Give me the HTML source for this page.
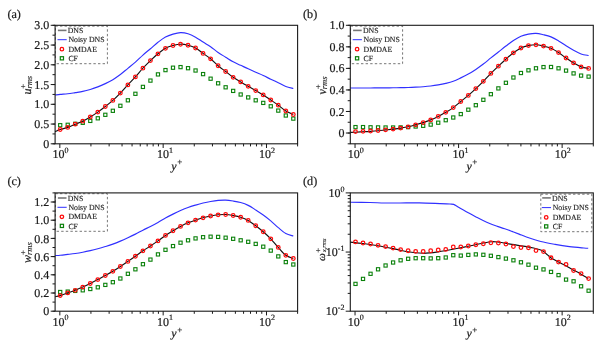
<!DOCTYPE html>
<html><head><meta charset="utf-8"><title>rms profiles</title>
<style>html,body{margin:0;padding:0;background:#fff;}svg{display:block;text-rendering:geometricPrecision;will-change:transform;}</style>
</head><body>
<svg width="598" height="348" viewBox="0 0 598 348" font-family='"Liberation Serif", serif' fill="#1a1a1a">
<rect width="598" height="348" fill="#fff"/>
<path d="M55.10,94.99 C55.95,94.90 58.10,94.61 60.20,94.41 C62.30,94.20 65.21,94.06 67.72,93.77 C70.23,93.47 72.73,93.03 75.24,92.64 C77.75,92.25 80.25,91.95 82.76,91.42 C85.27,90.90 87.77,90.24 90.28,89.48 C92.79,88.73 95.29,87.89 97.80,86.91 C100.31,85.94 102.81,84.83 105.32,83.62 C107.83,82.41 110.33,81.18 112.84,79.67 C115.35,78.15 117.85,76.41 120.36,74.52 C122.87,72.63 125.37,70.38 127.88,68.32 C130.39,66.26 132.89,64.36 135.40,62.15 C137.91,59.95 140.41,57.33 142.92,55.09 C145.43,52.85 147.93,50.86 150.44,48.72 C152.95,46.59 155.45,44.24 157.96,42.28 C160.47,40.32 162.97,38.32 165.48,36.95 C167.99,35.59 170.49,34.80 173.00,34.08 C175.51,33.35 178.01,32.66 180.52,32.60 C183.03,32.53 185.53,32.93 188.04,33.69 C190.55,34.45 193.05,35.78 195.56,37.18 C198.07,38.58 200.57,40.51 203.08,42.09 C205.59,43.67 208.09,44.94 210.60,46.67 C213.11,48.40 215.61,50.73 218.12,52.48 C220.63,54.24 223.13,55.64 225.64,57.19 C228.15,58.74 230.65,60.45 233.16,61.80 C235.67,63.15 238.17,64.13 240.68,65.30 C243.19,66.48 245.69,67.70 248.20,68.85 C250.71,70.01 253.21,71.12 255.72,72.23 C258.23,73.34 260.73,74.34 263.24,75.50 C265.75,76.67 268.25,77.99 270.76,79.20 C273.27,80.41 275.77,81.56 278.28,82.76 C280.79,83.97 283.29,85.46 285.80,86.42 C288.31,87.38 292.07,88.16 293.32,88.51" fill="none" stroke="#3030ff" stroke-width="1.15"/>
<rect x="58.60" y="123.60" width="3.2" height="3.2" fill="none" stroke="#0a800a" stroke-width="1.1"/>
<rect x="66.12" y="123.20" width="3.2" height="3.2" fill="none" stroke="#0a800a" stroke-width="1.1"/>
<rect x="73.64" y="122.20" width="3.2" height="3.2" fill="none" stroke="#0a800a" stroke-width="1.1"/>
<rect x="81.16" y="121.20" width="3.2" height="3.2" fill="none" stroke="#0a800a" stroke-width="1.1"/>
<rect x="88.68" y="119.30" width="3.2" height="3.2" fill="none" stroke="#0a800a" stroke-width="1.1"/>
<rect x="96.20" y="116.70" width="3.2" height="3.2" fill="none" stroke="#0a800a" stroke-width="1.1"/>
<rect x="103.72" y="113.20" width="3.2" height="3.2" fill="none" stroke="#0a800a" stroke-width="1.1"/>
<rect x="111.24" y="109.20" width="3.2" height="3.2" fill="none" stroke="#0a800a" stroke-width="1.1"/>
<rect x="118.76" y="104.20" width="3.2" height="3.2" fill="none" stroke="#0a800a" stroke-width="1.1"/>
<rect x="126.28" y="98.70" width="3.2" height="3.2" fill="none" stroke="#0a800a" stroke-width="1.1"/>
<rect x="133.80" y="92.20" width="3.2" height="3.2" fill="none" stroke="#0a800a" stroke-width="1.1"/>
<rect x="141.32" y="85.30" width="3.2" height="3.2" fill="none" stroke="#0a800a" stroke-width="1.1"/>
<rect x="148.84" y="79.00" width="3.2" height="3.2" fill="none" stroke="#0a800a" stroke-width="1.1"/>
<rect x="156.36" y="72.80" width="3.2" height="3.2" fill="none" stroke="#0a800a" stroke-width="1.1"/>
<rect x="163.88" y="68.50" width="3.2" height="3.2" fill="none" stroke="#0a800a" stroke-width="1.1"/>
<rect x="171.40" y="66.10" width="3.2" height="3.2" fill="none" stroke="#0a800a" stroke-width="1.1"/>
<rect x="178.92" y="65.50" width="3.2" height="3.2" fill="none" stroke="#0a800a" stroke-width="1.1"/>
<rect x="186.44" y="66.60" width="3.2" height="3.2" fill="none" stroke="#0a800a" stroke-width="1.1"/>
<rect x="193.96" y="68.90" width="3.2" height="3.2" fill="none" stroke="#0a800a" stroke-width="1.1"/>
<rect x="201.48" y="72.50" width="3.2" height="3.2" fill="none" stroke="#0a800a" stroke-width="1.1"/>
<rect x="209.00" y="77.10" width="3.2" height="3.2" fill="none" stroke="#0a800a" stroke-width="1.1"/>
<rect x="216.52" y="81.70" width="3.2" height="3.2" fill="none" stroke="#0a800a" stroke-width="1.1"/>
<rect x="224.04" y="85.70" width="3.2" height="3.2" fill="none" stroke="#0a800a" stroke-width="1.1"/>
<rect x="231.56" y="89.30" width="3.2" height="3.2" fill="none" stroke="#0a800a" stroke-width="1.1"/>
<rect x="239.08" y="92.90" width="3.2" height="3.2" fill="none" stroke="#0a800a" stroke-width="1.1"/>
<rect x="246.60" y="95.80" width="3.2" height="3.2" fill="none" stroke="#0a800a" stroke-width="1.1"/>
<rect x="254.12" y="98.70" width="3.2" height="3.2" fill="none" stroke="#0a800a" stroke-width="1.1"/>
<rect x="261.64" y="101.30" width="3.2" height="3.2" fill="none" stroke="#0a800a" stroke-width="1.1"/>
<rect x="269.16" y="104.70" width="3.2" height="3.2" fill="none" stroke="#0a800a" stroke-width="1.1"/>
<rect x="276.68" y="109.00" width="3.2" height="3.2" fill="none" stroke="#0a800a" stroke-width="1.1"/>
<rect x="284.20" y="113.90" width="3.2" height="3.2" fill="none" stroke="#0a800a" stroke-width="1.1"/>
<rect x="291.72" y="117.00" width="3.2" height="3.2" fill="none" stroke="#0a800a" stroke-width="1.1"/>
<path d="M55.10,131.70 C55.95,131.33 58.10,130.22 60.20,129.50 C62.30,128.78 65.21,128.28 67.72,127.40 C70.23,126.52 72.73,125.23 75.24,124.20 C77.75,123.17 80.25,122.40 82.76,121.20 C85.27,120.00 87.77,118.52 90.28,117.00 C92.79,115.48 95.29,113.85 97.80,112.10 C100.31,110.35 102.81,108.45 105.32,106.50 C107.83,104.55 110.33,102.63 112.84,100.40 C115.35,98.17 117.85,95.68 120.36,93.10 C122.87,90.52 125.37,87.60 127.88,84.90 C130.39,82.20 132.89,79.68 135.40,76.90 C137.91,74.12 140.41,70.92 142.92,68.20 C145.43,65.48 147.93,63.00 150.44,60.60 C152.95,58.20 155.45,55.85 157.96,53.80 C160.47,51.75 162.97,49.68 165.48,48.30 C167.99,46.92 170.49,46.18 173.00,45.50 C175.51,44.82 178.01,44.25 180.52,44.20 C183.03,44.15 185.53,44.57 188.04,45.20 C190.55,45.83 193.05,46.63 195.56,48.00 C198.07,49.37 200.57,51.60 203.08,53.40 C205.59,55.20 208.09,56.74 210.60,58.80 C213.11,60.86 215.61,63.63 218.12,65.75 C220.63,67.87 223.13,69.58 225.64,71.50 C228.15,73.42 230.65,75.57 233.16,77.30 C235.67,79.03 238.17,80.40 240.68,81.90 C243.19,83.40 245.69,84.85 248.20,86.30 C250.71,87.75 253.21,89.17 255.72,90.60 C258.23,92.03 260.73,93.33 263.24,94.90 C265.75,96.47 268.25,98.28 270.76,100.00 C273.27,101.72 275.77,103.37 278.28,105.20 C280.79,107.03 283.29,109.45 285.80,111.00 C288.31,112.55 292.07,113.92 293.32,114.50" fill="none" stroke="#111" stroke-width="1.15"/>
<circle cx="60.20" cy="129.50" r="1.8" fill="none" stroke="#ff0a0a" stroke-width="1.25"/>
<circle cx="67.72" cy="127.40" r="1.8" fill="none" stroke="#ff0a0a" stroke-width="1.25"/>
<circle cx="75.24" cy="124.20" r="1.8" fill="none" stroke="#ff0a0a" stroke-width="1.25"/>
<circle cx="82.76" cy="121.20" r="1.8" fill="none" stroke="#ff0a0a" stroke-width="1.25"/>
<circle cx="90.28" cy="117.00" r="1.8" fill="none" stroke="#ff0a0a" stroke-width="1.25"/>
<circle cx="97.80" cy="112.10" r="1.8" fill="none" stroke="#ff0a0a" stroke-width="1.25"/>
<circle cx="105.32" cy="106.50" r="1.8" fill="none" stroke="#ff0a0a" stroke-width="1.25"/>
<circle cx="112.84" cy="100.40" r="1.8" fill="none" stroke="#ff0a0a" stroke-width="1.25"/>
<circle cx="120.36" cy="93.10" r="1.8" fill="none" stroke="#ff0a0a" stroke-width="1.25"/>
<circle cx="127.88" cy="84.90" r="1.8" fill="none" stroke="#ff0a0a" stroke-width="1.25"/>
<circle cx="135.40" cy="76.90" r="1.8" fill="none" stroke="#ff0a0a" stroke-width="1.25"/>
<circle cx="142.92" cy="68.20" r="1.8" fill="none" stroke="#ff0a0a" stroke-width="1.25"/>
<circle cx="150.44" cy="60.60" r="1.8" fill="none" stroke="#ff0a0a" stroke-width="1.25"/>
<circle cx="157.96" cy="53.80" r="1.8" fill="none" stroke="#ff0a0a" stroke-width="1.25"/>
<circle cx="165.48" cy="48.30" r="1.8" fill="none" stroke="#ff0a0a" stroke-width="1.25"/>
<circle cx="173.00" cy="45.50" r="1.8" fill="none" stroke="#ff0a0a" stroke-width="1.25"/>
<circle cx="180.52" cy="44.20" r="1.8" fill="none" stroke="#ff0a0a" stroke-width="1.25"/>
<circle cx="188.04" cy="45.20" r="1.8" fill="none" stroke="#ff0a0a" stroke-width="1.25"/>
<circle cx="195.56" cy="48.00" r="1.8" fill="none" stroke="#ff0a0a" stroke-width="1.25"/>
<circle cx="203.08" cy="53.40" r="1.8" fill="none" stroke="#ff0a0a" stroke-width="1.25"/>
<circle cx="210.60" cy="58.80" r="1.8" fill="none" stroke="#ff0a0a" stroke-width="1.25"/>
<circle cx="218.12" cy="65.75" r="1.8" fill="none" stroke="#ff0a0a" stroke-width="1.25"/>
<circle cx="225.64" cy="71.50" r="1.8" fill="none" stroke="#ff0a0a" stroke-width="1.25"/>
<circle cx="233.16" cy="77.30" r="1.8" fill="none" stroke="#ff0a0a" stroke-width="1.25"/>
<circle cx="240.68" cy="81.90" r="1.8" fill="none" stroke="#ff0a0a" stroke-width="1.25"/>
<circle cx="248.20" cy="86.30" r="1.8" fill="none" stroke="#ff0a0a" stroke-width="1.25"/>
<circle cx="255.72" cy="90.60" r="1.8" fill="none" stroke="#ff0a0a" stroke-width="1.25"/>
<circle cx="263.24" cy="94.90" r="1.8" fill="none" stroke="#ff0a0a" stroke-width="1.25"/>
<circle cx="270.76" cy="100.00" r="1.8" fill="none" stroke="#ff0a0a" stroke-width="1.25"/>
<circle cx="278.28" cy="105.20" r="1.8" fill="none" stroke="#ff0a0a" stroke-width="1.25"/>
<circle cx="285.80" cy="111.00" r="1.8" fill="none" stroke="#ff0a0a" stroke-width="1.25"/>
<circle cx="293.32" cy="114.50" r="1.8" fill="none" stroke="#ff0a0a" stroke-width="1.25"/>
<rect x="55.40" y="26.10" width="52.0" height="37.6" fill="#fff" stroke="#4a4a4a" stroke-width="0.75" stroke-dasharray="2.4,2.2"/>
<line x1="57.90" y1="30.40" x2="66.50" y2="30.40" stroke="#767676" stroke-width="1.6"/>
<text x="67.70" y="33.00" font-size="7.8" stroke="#1a1a1a" stroke-width="0.12">DNS</text>
<line x1="57.50" y1="39.70" x2="66.70" y2="39.70" stroke="#2222ff" stroke-width="0.95"/>
<text x="68.40" y="42.30" font-size="7.8" stroke="#1a1a1a" stroke-width="0.12">Noisy DNS</text>
<circle cx="61.90" cy="49.20" r="1.75" fill="none" stroke="#ff0a0a" stroke-width="1.3"/>
<text x="68.40" y="51.80" font-size="7.8" stroke="#1a1a1a" stroke-width="0.12">DMDAE</text>
<rect x="60.30" y="56.70" width="3.2" height="3.2" fill="none" stroke="#0a800a" stroke-width="1.2"/>
<text x="68.40" y="60.90" font-size="7.8" stroke="#1a1a1a" stroke-width="0.12">CF</text>
<rect x="55.1" y="25.3" width="242.50" height="118.50" fill="none" stroke="#1a1a1a" stroke-width="1.1"/>
<text x="7.4" y="17.6" font-size="12.2" stroke="#1a1a1a" stroke-width="0.2">(a)</text>
<line x1="59.83" y1="143.8" x2="59.83" y2="148.00" stroke="#1a1a1a" stroke-width="1.0"/>
<line x1="90.93" y1="143.8" x2="90.93" y2="146.40" stroke="#1a1a1a" stroke-width="1.0"/>
<line x1="109.13" y1="143.8" x2="109.13" y2="146.40" stroke="#1a1a1a" stroke-width="1.0"/>
<line x1="122.04" y1="143.8" x2="122.04" y2="146.40" stroke="#1a1a1a" stroke-width="1.0"/>
<line x1="132.05" y1="143.8" x2="132.05" y2="146.40" stroke="#1a1a1a" stroke-width="1.0"/>
<line x1="140.24" y1="143.8" x2="140.24" y2="146.40" stroke="#1a1a1a" stroke-width="1.0"/>
<line x1="147.15" y1="143.8" x2="147.15" y2="146.40" stroke="#1a1a1a" stroke-width="1.0"/>
<line x1="153.15" y1="143.8" x2="153.15" y2="146.40" stroke="#1a1a1a" stroke-width="1.0"/>
<line x1="158.43" y1="143.8" x2="158.43" y2="146.40" stroke="#1a1a1a" stroke-width="1.0"/>
<text x="52.53" y="158.10" font-size="12" stroke="#1a1a1a" stroke-width="0.2">10<tspan font-size="8" dy="-5.2">0</tspan></text>
<line x1="163.16" y1="143.8" x2="163.16" y2="148.00" stroke="#1a1a1a" stroke-width="1.0"/>
<line x1="194.27" y1="143.8" x2="194.27" y2="146.40" stroke="#1a1a1a" stroke-width="1.0"/>
<line x1="212.46" y1="143.8" x2="212.46" y2="146.40" stroke="#1a1a1a" stroke-width="1.0"/>
<line x1="225.37" y1="143.8" x2="225.37" y2="146.40" stroke="#1a1a1a" stroke-width="1.0"/>
<line x1="235.39" y1="143.8" x2="235.39" y2="146.40" stroke="#1a1a1a" stroke-width="1.0"/>
<line x1="243.57" y1="143.8" x2="243.57" y2="146.40" stroke="#1a1a1a" stroke-width="1.0"/>
<line x1="250.49" y1="143.8" x2="250.49" y2="146.40" stroke="#1a1a1a" stroke-width="1.0"/>
<line x1="256.48" y1="143.8" x2="256.48" y2="146.40" stroke="#1a1a1a" stroke-width="1.0"/>
<line x1="261.77" y1="143.8" x2="261.77" y2="146.40" stroke="#1a1a1a" stroke-width="1.0"/>
<text x="156.96" y="158.10" font-size="12" stroke="#1a1a1a" stroke-width="0.2">10<tspan font-size="8" dy="-5.2">1</tspan></text>
<line x1="266.49" y1="143.8" x2="266.49" y2="148.00" stroke="#1a1a1a" stroke-width="1.0"/>
<line x1="297.60" y1="143.8" x2="297.60" y2="146.40" stroke="#1a1a1a" stroke-width="1.0"/>
<text x="259.09" y="158.10" font-size="12" stroke="#1a1a1a" stroke-width="0.2">10<tspan font-size="8" dy="-5.2">2</tspan></text>
<text x="171.20" y="169.60" font-size="12" font-style="italic" stroke="#1a1a1a" stroke-width="0.2">y<tspan font-size="9" dx="0.6" dy="-4.2" font-style="normal">+</tspan></text>
<line x1="50.70" y1="143.80" x2="55.1" y2="143.80" stroke="#1a1a1a" stroke-width="1.0"/>
<text x="49.30" y="147.90" font-size="12" text-anchor="end" stroke="#1a1a1a" stroke-width="0.2">0</text>
<line x1="50.70" y1="124.05" x2="55.1" y2="124.05" stroke="#1a1a1a" stroke-width="1.0"/>
<text x="49.30" y="128.15" font-size="12" text-anchor="end" stroke="#1a1a1a" stroke-width="0.2">0.5</text>
<line x1="50.70" y1="104.30" x2="55.1" y2="104.30" stroke="#1a1a1a" stroke-width="1.0"/>
<text x="49.30" y="108.40" font-size="12" text-anchor="end" stroke="#1a1a1a" stroke-width="0.2">1.0</text>
<line x1="50.70" y1="84.55" x2="55.1" y2="84.55" stroke="#1a1a1a" stroke-width="1.0"/>
<text x="49.30" y="88.65" font-size="12" text-anchor="end" stroke="#1a1a1a" stroke-width="0.2">1.5</text>
<line x1="50.70" y1="64.80" x2="55.1" y2="64.80" stroke="#1a1a1a" stroke-width="1.0"/>
<text x="49.30" y="68.90" font-size="12" text-anchor="end" stroke="#1a1a1a" stroke-width="0.2">2.0</text>
<line x1="50.70" y1="45.05" x2="55.1" y2="45.05" stroke="#1a1a1a" stroke-width="1.0"/>
<text x="49.30" y="49.15" font-size="12" text-anchor="end" stroke="#1a1a1a" stroke-width="0.2">2.5</text>
<line x1="50.70" y1="25.30" x2="55.1" y2="25.30" stroke="#1a1a1a" stroke-width="1.0"/>
<text x="49.30" y="29.40" font-size="12" text-anchor="end" stroke="#1a1a1a" stroke-width="0.2">3.0</text>
<line x1="52.50" y1="143.80" x2="55.1" y2="143.80" stroke="#1a1a1a" stroke-width="1.0"/>
<line x1="52.50" y1="133.93" x2="55.1" y2="133.93" stroke="#1a1a1a" stroke-width="1.0"/>
<line x1="52.50" y1="124.05" x2="55.1" y2="124.05" stroke="#1a1a1a" stroke-width="1.0"/>
<line x1="52.50" y1="114.18" x2="55.1" y2="114.18" stroke="#1a1a1a" stroke-width="1.0"/>
<line x1="52.50" y1="104.30" x2="55.1" y2="104.30" stroke="#1a1a1a" stroke-width="1.0"/>
<line x1="52.50" y1="94.43" x2="55.1" y2="94.43" stroke="#1a1a1a" stroke-width="1.0"/>
<line x1="52.50" y1="84.55" x2="55.1" y2="84.55" stroke="#1a1a1a" stroke-width="1.0"/>
<line x1="52.50" y1="74.67" x2="55.1" y2="74.67" stroke="#1a1a1a" stroke-width="1.0"/>
<line x1="52.50" y1="64.80" x2="55.1" y2="64.80" stroke="#1a1a1a" stroke-width="1.0"/>
<line x1="52.50" y1="54.92" x2="55.1" y2="54.92" stroke="#1a1a1a" stroke-width="1.0"/>
<line x1="52.50" y1="45.05" x2="55.1" y2="45.05" stroke="#1a1a1a" stroke-width="1.0"/>
<line x1="52.50" y1="35.17" x2="55.1" y2="35.17" stroke="#1a1a1a" stroke-width="1.0"/>
<line x1="52.50" y1="25.30" x2="55.1" y2="25.30" stroke="#1a1a1a" stroke-width="1.0"/>
<g transform="translate(30.60,94.60) rotate(-90)"><text x="0" y="0" font-size="12" font-style="italic" stroke="#1a1a1a" stroke-width="0.2">u</text><text x="6.00" y="1.6" font-size="8.5" font-style="italic" stroke="#1a1a1a" stroke-width="0.12">rms</text><text x="5.90" y="-5.1" font-size="8.6" stroke="#1a1a1a" stroke-width="0.12">+</text></g>
<path d="M350.40,88.02 C351.25,88.02 353.40,88.01 355.50,88.01 C357.60,88.00 360.51,87.99 363.02,87.98 C365.53,87.98 368.03,87.97 370.54,87.96 C373.05,87.95 375.55,87.94 378.06,87.92 C380.57,87.90 383.07,87.88 385.58,87.86 C388.09,87.83 390.59,87.81 393.10,87.78 C395.61,87.75 398.11,87.72 400.62,87.67 C403.13,87.62 405.63,87.58 408.14,87.50 C410.65,87.42 413.15,87.31 415.66,87.18 C418.17,87.05 420.67,86.92 423.18,86.73 C425.69,86.54 428.19,86.34 430.70,86.04 C433.21,85.74 435.71,85.38 438.22,84.94 C440.73,84.49 443.23,83.99 445.74,83.37 C448.25,82.75 450.75,82.14 453.26,81.23 C455.77,80.32 458.27,79.07 460.78,77.88 C463.29,76.70 465.79,75.50 468.30,74.10 C470.81,72.69 473.31,71.12 475.82,69.45 C478.33,67.78 480.83,66.00 483.34,64.08 C485.85,62.15 488.35,59.91 490.86,57.90 C493.37,55.88 495.87,53.97 498.38,51.99 C500.89,50.02 503.39,47.98 505.90,46.07 C508.41,44.15 510.91,42.15 513.42,40.51 C515.93,38.88 518.43,37.33 520.94,36.26 C523.45,35.19 525.95,34.57 528.46,34.08 C530.97,33.59 533.47,33.21 535.98,33.32 C538.49,33.42 540.99,34.11 543.50,34.71 C546.01,35.30 548.51,35.85 551.02,36.89 C553.53,37.92 556.03,39.41 558.54,40.90 C561.05,42.39 563.55,44.27 566.06,45.83 C568.57,47.40 571.07,48.93 573.58,50.28 C576.09,51.63 578.59,53.06 581.10,53.92 C583.61,54.78 587.37,55.20 588.62,55.45" fill="none" stroke="#3030ff" stroke-width="1.15"/>
<rect x="353.90" y="125.50" width="3.2" height="3.2" fill="none" stroke="#0a800a" stroke-width="1.1"/>
<rect x="361.42" y="125.50" width="3.2" height="3.2" fill="none" stroke="#0a800a" stroke-width="1.1"/>
<rect x="368.94" y="125.70" width="3.2" height="3.2" fill="none" stroke="#0a800a" stroke-width="1.1"/>
<rect x="376.46" y="125.80" width="3.2" height="3.2" fill="none" stroke="#0a800a" stroke-width="1.1"/>
<rect x="383.98" y="125.90" width="3.2" height="3.2" fill="none" stroke="#0a800a" stroke-width="1.1"/>
<rect x="391.50" y="125.90" width="3.2" height="3.2" fill="none" stroke="#0a800a" stroke-width="1.1"/>
<rect x="399.02" y="125.80" width="3.2" height="3.2" fill="none" stroke="#0a800a" stroke-width="1.1"/>
<rect x="406.54" y="125.50" width="3.2" height="3.2" fill="none" stroke="#0a800a" stroke-width="1.1"/>
<rect x="414.06" y="124.90" width="3.2" height="3.2" fill="none" stroke="#0a800a" stroke-width="1.1"/>
<rect x="421.58" y="124.20" width="3.2" height="3.2" fill="none" stroke="#0a800a" stroke-width="1.1"/>
<rect x="429.10" y="123.00" width="3.2" height="3.2" fill="none" stroke="#0a800a" stroke-width="1.1"/>
<rect x="436.62" y="121.10" width="3.2" height="3.2" fill="none" stroke="#0a800a" stroke-width="1.1"/>
<rect x="444.14" y="118.60" width="3.2" height="3.2" fill="none" stroke="#0a800a" stroke-width="1.1"/>
<rect x="451.66" y="115.90" width="3.2" height="3.2" fill="none" stroke="#0a800a" stroke-width="1.1"/>
<rect x="459.18" y="112.50" width="3.2" height="3.2" fill="none" stroke="#0a800a" stroke-width="1.1"/>
<rect x="466.70" y="108.10" width="3.2" height="3.2" fill="none" stroke="#0a800a" stroke-width="1.1"/>
<rect x="474.22" y="103.60" width="3.2" height="3.2" fill="none" stroke="#0a800a" stroke-width="1.1"/>
<rect x="481.74" y="98.20" width="3.2" height="3.2" fill="none" stroke="#0a800a" stroke-width="1.1"/>
<rect x="489.26" y="92.60" width="3.2" height="3.2" fill="none" stroke="#0a800a" stroke-width="1.1"/>
<rect x="496.78" y="86.80" width="3.2" height="3.2" fill="none" stroke="#0a800a" stroke-width="1.1"/>
<rect x="504.30" y="81.20" width="3.2" height="3.2" fill="none" stroke="#0a800a" stroke-width="1.1"/>
<rect x="511.82" y="75.90" width="3.2" height="3.2" fill="none" stroke="#0a800a" stroke-width="1.1"/>
<rect x="519.34" y="71.40" width="3.2" height="3.2" fill="none" stroke="#0a800a" stroke-width="1.1"/>
<rect x="526.86" y="68.70" width="3.2" height="3.2" fill="none" stroke="#0a800a" stroke-width="1.1"/>
<rect x="534.38" y="66.70" width="3.2" height="3.2" fill="none" stroke="#0a800a" stroke-width="1.1"/>
<rect x="541.90" y="65.50" width="3.2" height="3.2" fill="none" stroke="#0a800a" stroke-width="1.1"/>
<rect x="549.42" y="65.40" width="3.2" height="3.2" fill="none" stroke="#0a800a" stroke-width="1.1"/>
<rect x="556.94" y="66.70" width="3.2" height="3.2" fill="none" stroke="#0a800a" stroke-width="1.1"/>
<rect x="564.46" y="69.00" width="3.2" height="3.2" fill="none" stroke="#0a800a" stroke-width="1.1"/>
<rect x="571.98" y="71.80" width="3.2" height="3.2" fill="none" stroke="#0a800a" stroke-width="1.1"/>
<rect x="579.50" y="74.00" width="3.2" height="3.2" fill="none" stroke="#0a800a" stroke-width="1.1"/>
<rect x="587.02" y="75.00" width="3.2" height="3.2" fill="none" stroke="#0a800a" stroke-width="1.1"/>
<path d="M350.40,132.40 C351.25,132.37 353.40,132.30 355.50,132.20 C357.60,132.10 360.51,131.93 363.02,131.80 C365.53,131.67 368.03,131.57 370.54,131.40 C373.05,131.23 375.55,131.04 378.06,130.80 C380.57,130.56 383.07,130.23 385.58,129.95 C388.09,129.67 390.59,129.41 393.10,129.10 C395.61,128.79 398.11,128.48 400.62,128.10 C403.13,127.72 405.63,127.35 408.14,126.80 C410.65,126.25 413.15,125.50 415.66,124.80 C418.17,124.10 420.67,123.42 423.18,122.60 C425.69,121.78 428.19,120.93 430.70,119.90 C433.21,118.87 435.71,117.67 438.22,116.40 C440.73,115.13 443.23,113.77 445.74,112.30 C448.25,110.83 450.75,109.40 453.26,107.60 C455.77,105.80 458.27,103.53 460.78,101.50 C463.29,99.47 465.79,97.55 468.30,95.40 C470.81,93.25 473.31,90.95 475.82,88.60 C478.33,86.25 480.83,83.83 483.34,81.30 C485.85,78.77 488.35,75.92 490.86,73.40 C493.37,70.88 495.87,68.57 498.38,66.20 C500.89,63.83 503.39,61.43 505.90,59.20 C508.41,56.97 510.91,54.67 513.42,52.80 C515.93,50.93 518.43,49.20 520.94,48.00 C523.45,46.80 525.95,46.13 528.46,45.60 C530.97,45.07 533.47,44.72 535.98,44.80 C538.49,44.88 540.99,45.52 543.50,46.10 C546.01,46.68 548.51,47.22 551.02,48.30 C553.53,49.38 556.03,50.98 558.54,52.60 C561.05,54.22 563.55,56.28 566.06,58.00 C568.57,59.72 571.07,61.42 573.58,62.90 C576.09,64.38 578.59,65.98 581.10,66.90 C583.61,67.82 587.37,68.15 588.62,68.40" fill="none" stroke="#111" stroke-width="1.15"/>
<circle cx="355.50" cy="131.60" r="1.8" fill="none" stroke="#ff0a0a" stroke-width="1.25"/>
<circle cx="363.02" cy="131.30" r="1.8" fill="none" stroke="#ff0a0a" stroke-width="1.25"/>
<circle cx="370.54" cy="131.00" r="1.8" fill="none" stroke="#ff0a0a" stroke-width="1.25"/>
<circle cx="378.06" cy="130.50" r="1.8" fill="none" stroke="#ff0a0a" stroke-width="1.25"/>
<circle cx="385.58" cy="129.80" r="1.8" fill="none" stroke="#ff0a0a" stroke-width="1.25"/>
<circle cx="393.10" cy="129.10" r="1.8" fill="none" stroke="#ff0a0a" stroke-width="1.25"/>
<circle cx="400.62" cy="128.10" r="1.8" fill="none" stroke="#ff0a0a" stroke-width="1.25"/>
<circle cx="408.14" cy="126.80" r="1.8" fill="none" stroke="#ff0a0a" stroke-width="1.25"/>
<circle cx="415.66" cy="124.80" r="1.8" fill="none" stroke="#ff0a0a" stroke-width="1.25"/>
<circle cx="423.18" cy="122.60" r="1.8" fill="none" stroke="#ff0a0a" stroke-width="1.25"/>
<circle cx="430.70" cy="119.90" r="1.8" fill="none" stroke="#ff0a0a" stroke-width="1.25"/>
<circle cx="438.22" cy="116.40" r="1.8" fill="none" stroke="#ff0a0a" stroke-width="1.25"/>
<circle cx="445.74" cy="112.30" r="1.8" fill="none" stroke="#ff0a0a" stroke-width="1.25"/>
<circle cx="453.26" cy="107.60" r="1.8" fill="none" stroke="#ff0a0a" stroke-width="1.25"/>
<circle cx="460.78" cy="101.50" r="1.8" fill="none" stroke="#ff0a0a" stroke-width="1.25"/>
<circle cx="468.30" cy="95.40" r="1.8" fill="none" stroke="#ff0a0a" stroke-width="1.25"/>
<circle cx="475.82" cy="88.60" r="1.8" fill="none" stroke="#ff0a0a" stroke-width="1.25"/>
<circle cx="483.34" cy="81.30" r="1.8" fill="none" stroke="#ff0a0a" stroke-width="1.25"/>
<circle cx="490.86" cy="73.40" r="1.8" fill="none" stroke="#ff0a0a" stroke-width="1.25"/>
<circle cx="498.38" cy="66.20" r="1.8" fill="none" stroke="#ff0a0a" stroke-width="1.25"/>
<circle cx="505.90" cy="59.20" r="1.8" fill="none" stroke="#ff0a0a" stroke-width="1.25"/>
<circle cx="513.42" cy="52.80" r="1.8" fill="none" stroke="#ff0a0a" stroke-width="1.25"/>
<circle cx="520.94" cy="48.00" r="1.8" fill="none" stroke="#ff0a0a" stroke-width="1.25"/>
<circle cx="528.46" cy="45.60" r="1.8" fill="none" stroke="#ff0a0a" stroke-width="1.25"/>
<circle cx="535.98" cy="44.80" r="1.8" fill="none" stroke="#ff0a0a" stroke-width="1.25"/>
<circle cx="543.50" cy="46.10" r="1.8" fill="none" stroke="#ff0a0a" stroke-width="1.25"/>
<circle cx="551.02" cy="48.30" r="1.8" fill="none" stroke="#ff0a0a" stroke-width="1.25"/>
<circle cx="558.54" cy="52.60" r="1.8" fill="none" stroke="#ff0a0a" stroke-width="1.25"/>
<circle cx="566.06" cy="58.00" r="1.8" fill="none" stroke="#ff0a0a" stroke-width="1.25"/>
<circle cx="573.58" cy="62.90" r="1.8" fill="none" stroke="#ff0a0a" stroke-width="1.25"/>
<circle cx="581.10" cy="66.90" r="1.8" fill="none" stroke="#ff0a0a" stroke-width="1.25"/>
<circle cx="588.62" cy="68.40" r="1.8" fill="none" stroke="#ff0a0a" stroke-width="1.25"/>
<rect x="350.60" y="26.10" width="52.0" height="37.6" fill="#fff" stroke="#4a4a4a" stroke-width="0.75" stroke-dasharray="2.4,2.2"/>
<line x1="353.10" y1="30.40" x2="361.70" y2="30.40" stroke="#767676" stroke-width="1.6"/>
<text x="362.90" y="33.00" font-size="7.8" stroke="#1a1a1a" stroke-width="0.12">DNS</text>
<line x1="352.70" y1="39.70" x2="361.90" y2="39.70" stroke="#2222ff" stroke-width="0.95"/>
<text x="363.60" y="42.30" font-size="7.8" stroke="#1a1a1a" stroke-width="0.12">Noisy DNS</text>
<circle cx="357.10" cy="49.20" r="1.75" fill="none" stroke="#ff0a0a" stroke-width="1.3"/>
<text x="363.60" y="51.80" font-size="7.8" stroke="#1a1a1a" stroke-width="0.12">DMDAE</text>
<rect x="355.50" y="56.70" width="3.2" height="3.2" fill="none" stroke="#0a800a" stroke-width="1.2"/>
<text x="363.60" y="60.90" font-size="7.8" stroke="#1a1a1a" stroke-width="0.12">CF</text>
<rect x="350.3" y="25.3" width="243.00" height="118.50" fill="none" stroke="#1a1a1a" stroke-width="1.1"/>
<text x="303.0" y="17.6" font-size="12.2" stroke="#1a1a1a" stroke-width="0.2">(b)</text>
<line x1="355.04" y1="143.8" x2="355.04" y2="148.00" stroke="#1a1a1a" stroke-width="1.0"/>
<line x1="386.21" y1="143.8" x2="386.21" y2="146.40" stroke="#1a1a1a" stroke-width="1.0"/>
<line x1="404.44" y1="143.8" x2="404.44" y2="146.40" stroke="#1a1a1a" stroke-width="1.0"/>
<line x1="417.38" y1="143.8" x2="417.38" y2="146.40" stroke="#1a1a1a" stroke-width="1.0"/>
<line x1="427.41" y1="143.8" x2="427.41" y2="146.40" stroke="#1a1a1a" stroke-width="1.0"/>
<line x1="435.61" y1="143.8" x2="435.61" y2="146.40" stroke="#1a1a1a" stroke-width="1.0"/>
<line x1="442.54" y1="143.8" x2="442.54" y2="146.40" stroke="#1a1a1a" stroke-width="1.0"/>
<line x1="448.55" y1="143.8" x2="448.55" y2="146.40" stroke="#1a1a1a" stroke-width="1.0"/>
<line x1="453.85" y1="143.8" x2="453.85" y2="146.40" stroke="#1a1a1a" stroke-width="1.0"/>
<text x="347.74" y="158.10" font-size="12" stroke="#1a1a1a" stroke-width="0.2">10<tspan font-size="8" dy="-5.2">0</tspan></text>
<line x1="458.58" y1="143.8" x2="458.58" y2="148.00" stroke="#1a1a1a" stroke-width="1.0"/>
<line x1="489.75" y1="143.8" x2="489.75" y2="146.40" stroke="#1a1a1a" stroke-width="1.0"/>
<line x1="507.99" y1="143.8" x2="507.99" y2="146.40" stroke="#1a1a1a" stroke-width="1.0"/>
<line x1="520.92" y1="143.8" x2="520.92" y2="146.40" stroke="#1a1a1a" stroke-width="1.0"/>
<line x1="530.96" y1="143.8" x2="530.96" y2="146.40" stroke="#1a1a1a" stroke-width="1.0"/>
<line x1="539.16" y1="143.8" x2="539.16" y2="146.40" stroke="#1a1a1a" stroke-width="1.0"/>
<line x1="546.09" y1="143.8" x2="546.09" y2="146.40" stroke="#1a1a1a" stroke-width="1.0"/>
<line x1="552.09" y1="143.8" x2="552.09" y2="146.40" stroke="#1a1a1a" stroke-width="1.0"/>
<line x1="557.39" y1="143.8" x2="557.39" y2="146.40" stroke="#1a1a1a" stroke-width="1.0"/>
<text x="452.38" y="158.10" font-size="12" stroke="#1a1a1a" stroke-width="0.2">10<tspan font-size="8" dy="-5.2">1</tspan></text>
<line x1="562.13" y1="143.8" x2="562.13" y2="148.00" stroke="#1a1a1a" stroke-width="1.0"/>
<line x1="593.30" y1="143.8" x2="593.30" y2="146.40" stroke="#1a1a1a" stroke-width="1.0"/>
<text x="554.73" y="158.10" font-size="12" stroke="#1a1a1a" stroke-width="0.2">10<tspan font-size="8" dy="-5.2">2</tspan></text>
<text x="466.40" y="169.60" font-size="12" font-style="italic" stroke="#1a1a1a" stroke-width="0.2">y<tspan font-size="9" dx="0.6" dy="-4.2" font-style="normal">+</tspan></text>
<line x1="345.90" y1="133.03" x2="350.3" y2="133.03" stroke="#1a1a1a" stroke-width="1.0"/>
<text x="344.50" y="137.13" font-size="12" text-anchor="end" stroke="#1a1a1a" stroke-width="0.2">0</text>
<line x1="345.90" y1="111.48" x2="350.3" y2="111.48" stroke="#1a1a1a" stroke-width="1.0"/>
<text x="344.50" y="115.58" font-size="12" text-anchor="end" stroke="#1a1a1a" stroke-width="0.2">0.2</text>
<line x1="345.90" y1="89.94" x2="350.3" y2="89.94" stroke="#1a1a1a" stroke-width="1.0"/>
<text x="344.50" y="94.04" font-size="12" text-anchor="end" stroke="#1a1a1a" stroke-width="0.2">0.4</text>
<line x1="345.90" y1="68.39" x2="350.3" y2="68.39" stroke="#1a1a1a" stroke-width="1.0"/>
<text x="344.50" y="72.49" font-size="12" text-anchor="end" stroke="#1a1a1a" stroke-width="0.2">0.6</text>
<line x1="345.90" y1="46.85" x2="350.3" y2="46.85" stroke="#1a1a1a" stroke-width="1.0"/>
<text x="344.50" y="50.95" font-size="12" text-anchor="end" stroke="#1a1a1a" stroke-width="0.2">0.8</text>
<line x1="345.90" y1="25.30" x2="350.3" y2="25.30" stroke="#1a1a1a" stroke-width="1.0"/>
<text x="344.50" y="29.40" font-size="12" text-anchor="end" stroke="#1a1a1a" stroke-width="0.2">1.0</text>
<line x1="347.70" y1="143.80" x2="350.3" y2="143.80" stroke="#1a1a1a" stroke-width="1.0"/>
<line x1="347.70" y1="133.03" x2="350.3" y2="133.03" stroke="#1a1a1a" stroke-width="1.0"/>
<line x1="347.70" y1="122.25" x2="350.3" y2="122.25" stroke="#1a1a1a" stroke-width="1.0"/>
<line x1="347.70" y1="111.48" x2="350.3" y2="111.48" stroke="#1a1a1a" stroke-width="1.0"/>
<line x1="347.70" y1="100.71" x2="350.3" y2="100.71" stroke="#1a1a1a" stroke-width="1.0"/>
<line x1="347.70" y1="89.94" x2="350.3" y2="89.94" stroke="#1a1a1a" stroke-width="1.0"/>
<line x1="347.70" y1="79.16" x2="350.3" y2="79.16" stroke="#1a1a1a" stroke-width="1.0"/>
<line x1="347.70" y1="68.39" x2="350.3" y2="68.39" stroke="#1a1a1a" stroke-width="1.0"/>
<line x1="347.70" y1="57.62" x2="350.3" y2="57.62" stroke="#1a1a1a" stroke-width="1.0"/>
<line x1="347.70" y1="46.85" x2="350.3" y2="46.85" stroke="#1a1a1a" stroke-width="1.0"/>
<line x1="347.70" y1="36.07" x2="350.3" y2="36.07" stroke="#1a1a1a" stroke-width="1.0"/>
<line x1="347.70" y1="25.30" x2="350.3" y2="25.30" stroke="#1a1a1a" stroke-width="1.0"/>
<g transform="translate(325.60,94.60) rotate(-90)"><text x="0" y="0" font-size="12" font-style="italic" stroke="#1a1a1a" stroke-width="0.2">v</text><text x="5.40" y="1.6" font-size="8.5" font-style="italic" stroke="#1a1a1a" stroke-width="0.12">rms</text><text x="5.30" y="-5.1" font-size="8.6" stroke="#1a1a1a" stroke-width="0.12">+</text></g>
<path d="M55.20,255.59 C56.03,255.53 58.11,255.46 60.20,255.27 C62.29,255.08 65.21,254.72 67.72,254.43 C70.23,254.14 72.73,253.88 75.24,253.51 C77.75,253.15 80.25,252.73 82.76,252.25 C85.27,251.78 87.77,251.25 90.28,250.67 C92.79,250.08 95.29,249.44 97.80,248.76 C100.31,248.08 102.81,247.34 105.32,246.56 C107.83,245.79 110.33,245.03 112.84,244.13 C115.35,243.23 117.85,242.21 120.36,241.15 C122.87,240.09 125.37,238.94 127.88,237.77 C130.39,236.60 132.89,235.39 135.40,234.12 C137.91,232.86 140.41,231.43 142.92,230.16 C145.43,228.89 147.93,227.79 150.44,226.51 C152.95,225.23 155.45,223.90 157.96,222.48 C160.47,221.07 162.97,219.42 165.48,218.03 C167.99,216.63 170.49,215.38 173.00,214.13 C175.51,212.87 178.01,211.62 180.52,210.50 C183.03,209.38 185.53,208.32 188.04,207.42 C190.55,206.51 193.05,205.80 195.56,205.08 C198.07,204.35 200.57,203.66 203.08,203.06 C205.59,202.46 208.09,201.92 210.60,201.47 C213.11,201.03 215.61,200.63 218.12,200.40 C220.63,200.17 223.13,200.00 225.64,200.11 C228.15,200.21 230.65,200.62 233.16,201.03 C235.67,201.44 238.17,201.84 240.68,202.56 C243.19,203.28 245.69,204.14 248.20,205.37 C250.71,206.60 253.21,208.34 255.72,209.94 C258.23,211.55 260.73,213.20 263.24,215.02 C265.75,216.84 268.25,218.76 270.76,220.87 C273.27,222.97 275.77,225.55 278.28,227.67 C280.79,229.80 283.29,232.23 285.80,233.62 C288.31,235.00 292.07,235.58 293.32,235.97" fill="none" stroke="#3030ff" stroke-width="1.15"/>
<rect x="58.60" y="290.40" width="3.2" height="3.2" fill="none" stroke="#0a800a" stroke-width="1.1"/>
<rect x="66.12" y="290.00" width="3.2" height="3.2" fill="none" stroke="#0a800a" stroke-width="1.1"/>
<rect x="73.64" y="289.30" width="3.2" height="3.2" fill="none" stroke="#0a800a" stroke-width="1.1"/>
<rect x="81.16" y="288.70" width="3.2" height="3.2" fill="none" stroke="#0a800a" stroke-width="1.1"/>
<rect x="88.68" y="287.40" width="3.2" height="3.2" fill="none" stroke="#0a800a" stroke-width="1.1"/>
<rect x="96.20" y="285.70" width="3.2" height="3.2" fill="none" stroke="#0a800a" stroke-width="1.1"/>
<rect x="103.72" y="283.30" width="3.2" height="3.2" fill="none" stroke="#0a800a" stroke-width="1.1"/>
<rect x="111.24" y="280.60" width="3.2" height="3.2" fill="none" stroke="#0a800a" stroke-width="1.1"/>
<rect x="118.76" y="276.90" width="3.2" height="3.2" fill="none" stroke="#0a800a" stroke-width="1.1"/>
<rect x="126.28" y="272.20" width="3.2" height="3.2" fill="none" stroke="#0a800a" stroke-width="1.1"/>
<rect x="133.80" y="267.70" width="3.2" height="3.2" fill="none" stroke="#0a800a" stroke-width="1.1"/>
<rect x="141.32" y="262.60" width="3.2" height="3.2" fill="none" stroke="#0a800a" stroke-width="1.1"/>
<rect x="148.84" y="258.00" width="3.2" height="3.2" fill="none" stroke="#0a800a" stroke-width="1.1"/>
<rect x="156.36" y="252.80" width="3.2" height="3.2" fill="none" stroke="#0a800a" stroke-width="1.1"/>
<rect x="163.88" y="248.20" width="3.2" height="3.2" fill="none" stroke="#0a800a" stroke-width="1.1"/>
<rect x="171.40" y="244.50" width="3.2" height="3.2" fill="none" stroke="#0a800a" stroke-width="1.1"/>
<rect x="178.92" y="241.10" width="3.2" height="3.2" fill="none" stroke="#0a800a" stroke-width="1.1"/>
<rect x="186.44" y="238.70" width="3.2" height="3.2" fill="none" stroke="#0a800a" stroke-width="1.1"/>
<rect x="193.96" y="236.80" width="3.2" height="3.2" fill="none" stroke="#0a800a" stroke-width="1.1"/>
<rect x="201.48" y="235.60" width="3.2" height="3.2" fill="none" stroke="#0a800a" stroke-width="1.1"/>
<rect x="209.00" y="235.10" width="3.2" height="3.2" fill="none" stroke="#0a800a" stroke-width="1.1"/>
<rect x="216.52" y="235.30" width="3.2" height="3.2" fill="none" stroke="#0a800a" stroke-width="1.1"/>
<rect x="224.04" y="236.10" width="3.2" height="3.2" fill="none" stroke="#0a800a" stroke-width="1.1"/>
<rect x="231.56" y="237.20" width="3.2" height="3.2" fill="none" stroke="#0a800a" stroke-width="1.1"/>
<rect x="239.08" y="238.70" width="3.2" height="3.2" fill="none" stroke="#0a800a" stroke-width="1.1"/>
<rect x="246.60" y="240.20" width="3.2" height="3.2" fill="none" stroke="#0a800a" stroke-width="1.1"/>
<rect x="254.12" y="242.30" width="3.2" height="3.2" fill="none" stroke="#0a800a" stroke-width="1.1"/>
<rect x="261.64" y="245.10" width="3.2" height="3.2" fill="none" stroke="#0a800a" stroke-width="1.1"/>
<rect x="269.16" y="249.00" width="3.2" height="3.2" fill="none" stroke="#0a800a" stroke-width="1.1"/>
<rect x="276.68" y="254.80" width="3.2" height="3.2" fill="none" stroke="#0a800a" stroke-width="1.1"/>
<rect x="284.20" y="260.50" width="3.2" height="3.2" fill="none" stroke="#0a800a" stroke-width="1.1"/>
<rect x="291.72" y="262.90" width="3.2" height="3.2" fill="none" stroke="#0a800a" stroke-width="1.1"/>
<path d="M55.20,296.70 C56.03,296.52 58.11,296.23 60.20,295.60 C62.29,294.97 65.21,293.78 67.72,292.90 C70.23,292.02 72.73,291.27 75.24,290.30 C77.75,289.33 80.25,288.23 82.76,287.10 C85.27,285.97 87.77,284.75 90.28,283.50 C92.79,282.25 95.29,280.93 97.80,279.60 C100.31,278.27 102.81,276.88 105.32,275.50 C107.83,274.12 110.33,272.80 112.84,271.30 C115.35,269.80 117.85,268.15 120.36,266.50 C122.87,264.85 125.37,263.12 127.88,261.40 C130.39,259.68 132.89,257.97 135.40,256.20 C137.91,254.43 140.41,252.50 142.92,250.80 C145.43,249.10 147.93,247.65 150.44,246.00 C152.95,244.35 155.45,242.67 157.96,240.90 C160.47,239.13 162.97,237.10 165.48,235.40 C167.99,233.70 170.49,232.20 173.00,230.70 C175.51,229.20 178.01,227.72 180.52,226.40 C183.03,225.08 185.53,223.85 188.04,222.80 C190.55,221.75 193.05,220.93 195.56,220.10 C198.07,219.27 200.57,218.48 203.08,217.80 C205.59,217.12 208.09,216.50 210.60,216.00 C213.11,215.50 215.61,215.05 218.12,214.80 C220.63,214.55 223.13,214.38 225.64,214.50 C228.15,214.62 230.65,215.05 233.16,215.50 C235.67,215.95 238.17,216.38 240.68,217.20 C243.19,218.02 245.69,218.98 248.20,220.40 C250.71,221.82 253.21,223.82 255.72,225.70 C258.23,227.58 260.73,229.52 263.24,231.70 C265.75,233.88 268.25,236.18 270.76,238.80 C273.27,241.42 275.77,244.65 278.28,247.40 C280.79,250.15 283.29,253.45 285.80,255.30 C288.31,257.15 292.07,257.97 293.32,258.50" fill="none" stroke="#111" stroke-width="1.15"/>
<circle cx="60.20" cy="295.60" r="1.8" fill="none" stroke="#ff0a0a" stroke-width="1.25"/>
<circle cx="67.72" cy="292.90" r="1.8" fill="none" stroke="#ff0a0a" stroke-width="1.25"/>
<circle cx="75.24" cy="290.30" r="1.8" fill="none" stroke="#ff0a0a" stroke-width="1.25"/>
<circle cx="82.76" cy="287.10" r="1.8" fill="none" stroke="#ff0a0a" stroke-width="1.25"/>
<circle cx="90.28" cy="283.50" r="1.8" fill="none" stroke="#ff0a0a" stroke-width="1.25"/>
<circle cx="97.80" cy="279.60" r="1.8" fill="none" stroke="#ff0a0a" stroke-width="1.25"/>
<circle cx="105.32" cy="275.50" r="1.8" fill="none" stroke="#ff0a0a" stroke-width="1.25"/>
<circle cx="112.84" cy="271.30" r="1.8" fill="none" stroke="#ff0a0a" stroke-width="1.25"/>
<circle cx="120.36" cy="266.50" r="1.8" fill="none" stroke="#ff0a0a" stroke-width="1.25"/>
<circle cx="127.88" cy="261.40" r="1.8" fill="none" stroke="#ff0a0a" stroke-width="1.25"/>
<circle cx="135.40" cy="256.20" r="1.8" fill="none" stroke="#ff0a0a" stroke-width="1.25"/>
<circle cx="142.92" cy="250.80" r="1.8" fill="none" stroke="#ff0a0a" stroke-width="1.25"/>
<circle cx="150.44" cy="246.00" r="1.8" fill="none" stroke="#ff0a0a" stroke-width="1.25"/>
<circle cx="157.96" cy="240.90" r="1.8" fill="none" stroke="#ff0a0a" stroke-width="1.25"/>
<circle cx="165.48" cy="235.40" r="1.8" fill="none" stroke="#ff0a0a" stroke-width="1.25"/>
<circle cx="173.00" cy="230.70" r="1.8" fill="none" stroke="#ff0a0a" stroke-width="1.25"/>
<circle cx="180.52" cy="226.40" r="1.8" fill="none" stroke="#ff0a0a" stroke-width="1.25"/>
<circle cx="188.04" cy="222.80" r="1.8" fill="none" stroke="#ff0a0a" stroke-width="1.25"/>
<circle cx="195.56" cy="220.10" r="1.8" fill="none" stroke="#ff0a0a" stroke-width="1.25"/>
<circle cx="203.08" cy="217.80" r="1.8" fill="none" stroke="#ff0a0a" stroke-width="1.25"/>
<circle cx="210.60" cy="216.00" r="1.8" fill="none" stroke="#ff0a0a" stroke-width="1.25"/>
<circle cx="218.12" cy="214.80" r="1.8" fill="none" stroke="#ff0a0a" stroke-width="1.25"/>
<circle cx="225.64" cy="214.50" r="1.8" fill="none" stroke="#ff0a0a" stroke-width="1.25"/>
<circle cx="233.16" cy="215.50" r="1.8" fill="none" stroke="#ff0a0a" stroke-width="1.25"/>
<circle cx="240.68" cy="217.20" r="1.8" fill="none" stroke="#ff0a0a" stroke-width="1.25"/>
<circle cx="248.20" cy="220.40" r="1.8" fill="none" stroke="#ff0a0a" stroke-width="1.25"/>
<circle cx="255.72" cy="225.70" r="1.8" fill="none" stroke="#ff0a0a" stroke-width="1.25"/>
<circle cx="263.24" cy="231.70" r="1.8" fill="none" stroke="#ff0a0a" stroke-width="1.25"/>
<circle cx="270.76" cy="238.80" r="1.8" fill="none" stroke="#ff0a0a" stroke-width="1.25"/>
<circle cx="278.28" cy="247.40" r="1.8" fill="none" stroke="#ff0a0a" stroke-width="1.25"/>
<circle cx="285.80" cy="255.30" r="1.8" fill="none" stroke="#ff0a0a" stroke-width="1.25"/>
<circle cx="293.32" cy="258.50" r="1.8" fill="none" stroke="#ff0a0a" stroke-width="1.25"/>
<rect x="55.40" y="193.70" width="52.0" height="37.6" fill="#fff" stroke="#4a4a4a" stroke-width="0.75" stroke-dasharray="2.4,2.2"/>
<line x1="57.90" y1="198.00" x2="66.50" y2="198.00" stroke="#767676" stroke-width="1.6"/>
<text x="67.70" y="200.60" font-size="7.8" stroke="#1a1a1a" stroke-width="0.12">DNS</text>
<line x1="57.50" y1="207.30" x2="66.70" y2="207.30" stroke="#2222ff" stroke-width="0.95"/>
<text x="68.40" y="209.90" font-size="7.8" stroke="#1a1a1a" stroke-width="0.12">Noisy DNS</text>
<circle cx="61.90" cy="216.80" r="1.75" fill="none" stroke="#ff0a0a" stroke-width="1.3"/>
<text x="68.40" y="219.40" font-size="7.8" stroke="#1a1a1a" stroke-width="0.12">DMDAE</text>
<rect x="60.30" y="224.30" width="3.2" height="3.2" fill="none" stroke="#0a800a" stroke-width="1.2"/>
<text x="68.40" y="228.50" font-size="7.8" stroke="#1a1a1a" stroke-width="0.12">CF</text>
<rect x="55.1" y="192.9" width="242.50" height="118.30" fill="none" stroke="#1a1a1a" stroke-width="1.1"/>
<text x="7.4" y="185.2" font-size="12.2" stroke="#1a1a1a" stroke-width="0.2">(c)</text>
<line x1="59.83" y1="311.2" x2="59.83" y2="315.40" stroke="#1a1a1a" stroke-width="1.0"/>
<line x1="90.93" y1="311.2" x2="90.93" y2="313.80" stroke="#1a1a1a" stroke-width="1.0"/>
<line x1="109.13" y1="311.2" x2="109.13" y2="313.80" stroke="#1a1a1a" stroke-width="1.0"/>
<line x1="122.04" y1="311.2" x2="122.04" y2="313.80" stroke="#1a1a1a" stroke-width="1.0"/>
<line x1="132.05" y1="311.2" x2="132.05" y2="313.80" stroke="#1a1a1a" stroke-width="1.0"/>
<line x1="140.24" y1="311.2" x2="140.24" y2="313.80" stroke="#1a1a1a" stroke-width="1.0"/>
<line x1="147.15" y1="311.2" x2="147.15" y2="313.80" stroke="#1a1a1a" stroke-width="1.0"/>
<line x1="153.15" y1="311.2" x2="153.15" y2="313.80" stroke="#1a1a1a" stroke-width="1.0"/>
<line x1="158.43" y1="311.2" x2="158.43" y2="313.80" stroke="#1a1a1a" stroke-width="1.0"/>
<text x="52.53" y="325.50" font-size="12" stroke="#1a1a1a" stroke-width="0.2">10<tspan font-size="8" dy="-5.2">0</tspan></text>
<line x1="163.16" y1="311.2" x2="163.16" y2="315.40" stroke="#1a1a1a" stroke-width="1.0"/>
<line x1="194.27" y1="311.2" x2="194.27" y2="313.80" stroke="#1a1a1a" stroke-width="1.0"/>
<line x1="212.46" y1="311.2" x2="212.46" y2="313.80" stroke="#1a1a1a" stroke-width="1.0"/>
<line x1="225.37" y1="311.2" x2="225.37" y2="313.80" stroke="#1a1a1a" stroke-width="1.0"/>
<line x1="235.39" y1="311.2" x2="235.39" y2="313.80" stroke="#1a1a1a" stroke-width="1.0"/>
<line x1="243.57" y1="311.2" x2="243.57" y2="313.80" stroke="#1a1a1a" stroke-width="1.0"/>
<line x1="250.49" y1="311.2" x2="250.49" y2="313.80" stroke="#1a1a1a" stroke-width="1.0"/>
<line x1="256.48" y1="311.2" x2="256.48" y2="313.80" stroke="#1a1a1a" stroke-width="1.0"/>
<line x1="261.77" y1="311.2" x2="261.77" y2="313.80" stroke="#1a1a1a" stroke-width="1.0"/>
<text x="156.96" y="325.50" font-size="12" stroke="#1a1a1a" stroke-width="0.2">10<tspan font-size="8" dy="-5.2">1</tspan></text>
<line x1="266.49" y1="311.2" x2="266.49" y2="315.40" stroke="#1a1a1a" stroke-width="1.0"/>
<line x1="297.60" y1="311.2" x2="297.60" y2="313.80" stroke="#1a1a1a" stroke-width="1.0"/>
<text x="259.09" y="325.50" font-size="12" stroke="#1a1a1a" stroke-width="0.2">10<tspan font-size="8" dy="-5.2">2</tspan></text>
<text x="171.20" y="337.00" font-size="12" font-style="italic" stroke="#1a1a1a" stroke-width="0.2">y<tspan font-size="9" dx="0.6" dy="-4.2" font-style="normal">+</tspan></text>
<line x1="50.70" y1="311.20" x2="55.1" y2="311.20" stroke="#1a1a1a" stroke-width="1.0"/>
<text x="49.30" y="315.30" font-size="12" text-anchor="end" stroke="#1a1a1a" stroke-width="0.2">0</text>
<line x1="50.70" y1="293.00" x2="55.1" y2="293.00" stroke="#1a1a1a" stroke-width="1.0"/>
<text x="49.30" y="297.10" font-size="12" text-anchor="end" stroke="#1a1a1a" stroke-width="0.2">0.2</text>
<line x1="50.70" y1="274.80" x2="55.1" y2="274.80" stroke="#1a1a1a" stroke-width="1.0"/>
<text x="49.30" y="278.90" font-size="12" text-anchor="end" stroke="#1a1a1a" stroke-width="0.2">0.4</text>
<line x1="50.70" y1="256.60" x2="55.1" y2="256.60" stroke="#1a1a1a" stroke-width="1.0"/>
<text x="49.30" y="260.70" font-size="12" text-anchor="end" stroke="#1a1a1a" stroke-width="0.2">0.6</text>
<line x1="50.70" y1="238.40" x2="55.1" y2="238.40" stroke="#1a1a1a" stroke-width="1.0"/>
<text x="49.30" y="242.50" font-size="12" text-anchor="end" stroke="#1a1a1a" stroke-width="0.2">0.8</text>
<line x1="50.70" y1="220.20" x2="55.1" y2="220.20" stroke="#1a1a1a" stroke-width="1.0"/>
<text x="49.30" y="224.30" font-size="12" text-anchor="end" stroke="#1a1a1a" stroke-width="0.2">1.0</text>
<line x1="50.70" y1="202.00" x2="55.1" y2="202.00" stroke="#1a1a1a" stroke-width="1.0"/>
<text x="49.30" y="206.10" font-size="12" text-anchor="end" stroke="#1a1a1a" stroke-width="0.2">1.2</text>
<line x1="52.50" y1="311.20" x2="55.1" y2="311.20" stroke="#1a1a1a" stroke-width="1.0"/>
<line x1="52.50" y1="302.10" x2="55.1" y2="302.10" stroke="#1a1a1a" stroke-width="1.0"/>
<line x1="52.50" y1="293.00" x2="55.1" y2="293.00" stroke="#1a1a1a" stroke-width="1.0"/>
<line x1="52.50" y1="283.90" x2="55.1" y2="283.90" stroke="#1a1a1a" stroke-width="1.0"/>
<line x1="52.50" y1="274.80" x2="55.1" y2="274.80" stroke="#1a1a1a" stroke-width="1.0"/>
<line x1="52.50" y1="265.70" x2="55.1" y2="265.70" stroke="#1a1a1a" stroke-width="1.0"/>
<line x1="52.50" y1="256.60" x2="55.1" y2="256.60" stroke="#1a1a1a" stroke-width="1.0"/>
<line x1="52.50" y1="247.50" x2="55.1" y2="247.50" stroke="#1a1a1a" stroke-width="1.0"/>
<line x1="52.50" y1="238.40" x2="55.1" y2="238.40" stroke="#1a1a1a" stroke-width="1.0"/>
<line x1="52.50" y1="229.30" x2="55.1" y2="229.30" stroke="#1a1a1a" stroke-width="1.0"/>
<line x1="52.50" y1="220.20" x2="55.1" y2="220.20" stroke="#1a1a1a" stroke-width="1.0"/>
<line x1="52.50" y1="211.10" x2="55.1" y2="211.10" stroke="#1a1a1a" stroke-width="1.0"/>
<line x1="52.50" y1="202.00" x2="55.1" y2="202.00" stroke="#1a1a1a" stroke-width="1.0"/>
<line x1="52.50" y1="192.90" x2="55.1" y2="192.90" stroke="#1a1a1a" stroke-width="1.0"/>
<g transform="translate(30.60,263.00) rotate(-90)"><text x="0" y="0" font-size="12" font-style="italic" stroke="#1a1a1a" stroke-width="0.2">w</text><text x="8.00" y="1.6" font-size="8.5" font-style="italic" stroke="#1a1a1a" stroke-width="0.12">rms</text><text x="7.90" y="-5.1" font-size="8.6" stroke="#1a1a1a" stroke-width="0.12">+</text></g>
<path d="M350.20,202.20 C353.47,202.25 364.07,202.37 369.80,202.50 C375.53,202.63 379.57,202.92 384.60,203.00 C389.63,203.08 394.22,203.02 400.00,203.00 C405.78,202.98 412.63,202.80 419.30,202.90 C425.97,203.00 434.88,203.42 440.00,203.60 C445.12,203.78 447.72,203.87 450.00,204.00 C452.28,204.13 452.53,204.02 453.70,204.40 C454.87,204.78 455.68,205.52 457.00,206.30 C458.32,207.08 459.63,207.98 461.60,209.10 C463.57,210.22 466.40,211.70 468.80,213.00 C471.20,214.30 473.62,215.63 476.00,216.90 C478.38,218.17 480.72,219.45 483.10,220.60 C485.48,221.75 487.90,222.83 490.30,223.80 C492.70,224.77 495.10,225.57 497.50,226.40 C499.90,227.23 502.30,227.97 504.70,228.80 C507.10,229.63 509.50,230.52 511.90,231.40 C514.30,232.28 516.68,233.17 519.10,234.10 C521.52,235.03 522.78,235.77 526.40,237.00 C530.02,238.23 536.02,240.27 540.80,241.50 C545.58,242.73 550.32,243.55 555.10,244.40 C559.88,245.25 564.70,246.00 569.50,246.60 C574.30,247.20 580.78,247.72 583.90,248.00 C587.02,248.28 587.48,248.25 588.20,248.30" fill="none" stroke="#3030ff" stroke-width="1.15"/>
<rect x="353.90" y="282.30" width="3.2" height="3.2" fill="none" stroke="#0a800a" stroke-width="1.1"/>
<rect x="361.42" y="277.30" width="3.2" height="3.2" fill="none" stroke="#0a800a" stroke-width="1.1"/>
<rect x="368.94" y="272.20" width="3.2" height="3.2" fill="none" stroke="#0a800a" stroke-width="1.1"/>
<rect x="376.46" y="267.70" width="3.2" height="3.2" fill="none" stroke="#0a800a" stroke-width="1.1"/>
<rect x="383.98" y="263.90" width="3.2" height="3.2" fill="none" stroke="#0a800a" stroke-width="1.1"/>
<rect x="391.50" y="260.90" width="3.2" height="3.2" fill="none" stroke="#0a800a" stroke-width="1.1"/>
<rect x="399.02" y="258.70" width="3.2" height="3.2" fill="none" stroke="#0a800a" stroke-width="1.1"/>
<rect x="406.54" y="257.20" width="3.2" height="3.2" fill="none" stroke="#0a800a" stroke-width="1.1"/>
<rect x="414.06" y="256.60" width="3.2" height="3.2" fill="none" stroke="#0a800a" stroke-width="1.1"/>
<rect x="421.58" y="256.60" width="3.2" height="3.2" fill="none" stroke="#0a800a" stroke-width="1.1"/>
<rect x="429.10" y="256.80" width="3.2" height="3.2" fill="none" stroke="#0a800a" stroke-width="1.1"/>
<rect x="436.62" y="256.60" width="3.2" height="3.2" fill="none" stroke="#0a800a" stroke-width="1.1"/>
<rect x="444.14" y="255.90" width="3.2" height="3.2" fill="none" stroke="#0a800a" stroke-width="1.1"/>
<rect x="451.66" y="253.60" width="3.2" height="3.2" fill="none" stroke="#0a800a" stroke-width="1.1"/>
<rect x="459.18" y="254.00" width="3.2" height="3.2" fill="none" stroke="#0a800a" stroke-width="1.1"/>
<rect x="466.70" y="253.30" width="3.2" height="3.2" fill="none" stroke="#0a800a" stroke-width="1.1"/>
<rect x="474.22" y="252.80" width="3.2" height="3.2" fill="none" stroke="#0a800a" stroke-width="1.1"/>
<rect x="481.74" y="253.20" width="3.2" height="3.2" fill="none" stroke="#0a800a" stroke-width="1.1"/>
<rect x="489.26" y="254.20" width="3.2" height="3.2" fill="none" stroke="#0a800a" stroke-width="1.1"/>
<rect x="496.78" y="255.50" width="3.2" height="3.2" fill="none" stroke="#0a800a" stroke-width="1.1"/>
<rect x="504.30" y="257.00" width="3.2" height="3.2" fill="none" stroke="#0a800a" stroke-width="1.1"/>
<rect x="511.82" y="258.70" width="3.2" height="3.2" fill="none" stroke="#0a800a" stroke-width="1.1"/>
<rect x="519.34" y="260.70" width="3.2" height="3.2" fill="none" stroke="#0a800a" stroke-width="1.1"/>
<rect x="526.86" y="263.10" width="3.2" height="3.2" fill="none" stroke="#0a800a" stroke-width="1.1"/>
<rect x="534.38" y="266.10" width="3.2" height="3.2" fill="none" stroke="#0a800a" stroke-width="1.1"/>
<rect x="541.90" y="267.80" width="3.2" height="3.2" fill="none" stroke="#0a800a" stroke-width="1.1"/>
<rect x="549.42" y="270.30" width="3.2" height="3.2" fill="none" stroke="#0a800a" stroke-width="1.1"/>
<rect x="556.94" y="273.50" width="3.2" height="3.2" fill="none" stroke="#0a800a" stroke-width="1.1"/>
<rect x="564.46" y="278.00" width="3.2" height="3.2" fill="none" stroke="#0a800a" stroke-width="1.1"/>
<rect x="571.98" y="279.70" width="3.2" height="3.2" fill="none" stroke="#0a800a" stroke-width="1.1"/>
<rect x="579.50" y="284.70" width="3.2" height="3.2" fill="none" stroke="#0a800a" stroke-width="1.1"/>
<rect x="587.02" y="289.10" width="3.2" height="3.2" fill="none" stroke="#0a800a" stroke-width="1.1"/>
<path d="M350.20,242.10 C352.33,242.33 358.37,242.88 363.00,243.50 C367.63,244.12 373.00,244.95 378.00,245.80 C383.00,246.65 389.27,247.87 393.00,248.60 C396.73,249.33 397.90,249.67 400.40,250.20 C402.90,250.73 405.57,251.37 408.00,251.80 C410.43,252.23 412.50,252.55 415.00,252.80 C417.50,253.05 420.50,253.28 423.00,253.30 C425.50,253.32 427.50,253.13 430.00,252.90 C432.50,252.67 435.50,252.25 438.00,251.90 C440.50,251.55 442.50,251.23 445.00,250.80 C447.50,250.37 450.40,249.80 453.00,249.30 C455.60,248.80 458.10,248.30 460.60,247.80 C463.10,247.30 465.48,246.82 468.00,246.30 C470.52,245.78 473.17,245.25 475.70,244.70 C478.23,244.15 480.48,243.50 483.20,243.00 C485.92,242.50 489.37,241.83 492.00,241.70 C494.63,241.57 496.50,241.90 499.00,242.20 C501.50,242.50 504.83,243.13 507.00,243.50 C509.17,243.87 508.77,243.88 512.00,244.40 C515.23,244.92 522.80,246.00 526.40,246.60 C530.00,247.20 531.33,247.48 533.60,248.00 C535.87,248.52 538.37,249.17 540.00,249.70 C541.63,250.23 542.32,250.48 543.40,251.20 C544.48,251.92 545.32,252.97 546.50,254.00 C547.68,255.03 548.58,256.12 550.50,257.40 C552.42,258.68 555.50,260.33 558.00,261.70 C560.50,263.07 562.98,264.23 565.50,265.60 C568.02,266.97 570.57,268.52 573.10,269.90 C575.63,271.28 578.17,272.45 580.70,273.90 C583.23,275.35 587.03,277.82 588.30,278.60" fill="none" stroke="#111" stroke-width="1.15"/>
<circle cx="355.50" cy="241.90" r="1.8" fill="none" stroke="#ff0a0a" stroke-width="1.25"/>
<circle cx="363.02" cy="243.00" r="1.8" fill="none" stroke="#ff0a0a" stroke-width="1.25"/>
<circle cx="370.54" cy="244.00" r="1.8" fill="none" stroke="#ff0a0a" stroke-width="1.25"/>
<circle cx="378.06" cy="245.30" r="1.8" fill="none" stroke="#ff0a0a" stroke-width="1.25"/>
<circle cx="385.58" cy="246.60" r="1.8" fill="none" stroke="#ff0a0a" stroke-width="1.25"/>
<circle cx="393.10" cy="248.10" r="1.8" fill="none" stroke="#ff0a0a" stroke-width="1.25"/>
<circle cx="400.62" cy="249.60" r="1.8" fill="none" stroke="#ff0a0a" stroke-width="1.25"/>
<circle cx="408.14" cy="250.70" r="1.8" fill="none" stroke="#ff0a0a" stroke-width="1.25"/>
<circle cx="415.66" cy="251.30" r="1.8" fill="none" stroke="#ff0a0a" stroke-width="1.25"/>
<circle cx="423.18" cy="251.50" r="1.8" fill="none" stroke="#ff0a0a" stroke-width="1.25"/>
<circle cx="430.70" cy="250.70" r="1.8" fill="none" stroke="#ff0a0a" stroke-width="1.25"/>
<circle cx="438.22" cy="250.00" r="1.8" fill="none" stroke="#ff0a0a" stroke-width="1.25"/>
<circle cx="445.74" cy="249.40" r="1.8" fill="none" stroke="#ff0a0a" stroke-width="1.25"/>
<circle cx="453.26" cy="247.00" r="1.8" fill="none" stroke="#ff0a0a" stroke-width="1.25"/>
<circle cx="460.78" cy="247.00" r="1.8" fill="none" stroke="#ff0a0a" stroke-width="1.25"/>
<circle cx="468.30" cy="246.00" r="1.8" fill="none" stroke="#ff0a0a" stroke-width="1.25"/>
<circle cx="475.82" cy="244.70" r="1.8" fill="none" stroke="#ff0a0a" stroke-width="1.25"/>
<circle cx="483.34" cy="243.70" r="1.8" fill="none" stroke="#ff0a0a" stroke-width="1.25"/>
<circle cx="490.86" cy="242.70" r="1.8" fill="none" stroke="#ff0a0a" stroke-width="1.25"/>
<circle cx="498.38" cy="243.00" r="1.8" fill="none" stroke="#ff0a0a" stroke-width="1.25"/>
<circle cx="505.90" cy="244.00" r="1.8" fill="none" stroke="#ff0a0a" stroke-width="1.25"/>
<circle cx="513.42" cy="246.60" r="1.8" fill="none" stroke="#ff0a0a" stroke-width="1.25"/>
<circle cx="520.94" cy="247.60" r="1.8" fill="none" stroke="#ff0a0a" stroke-width="1.25"/>
<circle cx="528.46" cy="247.70" r="1.8" fill="none" stroke="#ff0a0a" stroke-width="1.25"/>
<circle cx="535.98" cy="250.60" r="1.8" fill="none" stroke="#ff0a0a" stroke-width="1.25"/>
<circle cx="543.50" cy="251.60" r="1.8" fill="none" stroke="#ff0a0a" stroke-width="1.25"/>
<circle cx="551.02" cy="257.80" r="1.8" fill="none" stroke="#ff0a0a" stroke-width="1.25"/>
<circle cx="558.54" cy="262.10" r="1.8" fill="none" stroke="#ff0a0a" stroke-width="1.25"/>
<circle cx="566.06" cy="264.40" r="1.8" fill="none" stroke="#ff0a0a" stroke-width="1.25"/>
<circle cx="573.58" cy="270.50" r="1.8" fill="none" stroke="#ff0a0a" stroke-width="1.25"/>
<circle cx="581.10" cy="273.60" r="1.8" fill="none" stroke="#ff0a0a" stroke-width="1.25"/>
<circle cx="588.62" cy="278.60" r="1.8" fill="none" stroke="#ff0a0a" stroke-width="1.25"/>
<rect x="540.80" y="194.20" width="51.0" height="37.5" fill="#fff" stroke="#4a4a4a" stroke-width="0.75" stroke-dasharray="2.4,2.2"/>
<line x1="542.20" y1="197.90" x2="550.80" y2="197.90" stroke="#767676" stroke-width="1.6"/>
<text x="552.00" y="200.50" font-size="7.8" stroke="#1a1a1a" stroke-width="0.12">DNS</text>
<line x1="541.80" y1="207.60" x2="551.00" y2="207.60" stroke="#2222ff" stroke-width="0.95"/>
<text x="552.70" y="210.20" font-size="7.8" stroke="#1a1a1a" stroke-width="0.12">Noisy DNS</text>
<circle cx="546.20" cy="217.40" r="1.75" fill="none" stroke="#ff0a0a" stroke-width="1.3"/>
<text x="552.70" y="220.00" font-size="7.8" stroke="#1a1a1a" stroke-width="0.12">DMDAE</text>
<rect x="544.60" y="224.80" width="3.2" height="3.2" fill="none" stroke="#0a800a" stroke-width="1.2"/>
<text x="552.70" y="229.00" font-size="7.8" stroke="#1a1a1a" stroke-width="0.12">CF</text>
<rect x="350.3" y="192.9" width="243.00" height="118.30" fill="none" stroke="#1a1a1a" stroke-width="1.1"/>
<text x="303.0" y="185.2" font-size="12.2" stroke="#1a1a1a" stroke-width="0.2">(d)</text>
<line x1="355.04" y1="311.2" x2="355.04" y2="315.40" stroke="#1a1a1a" stroke-width="1.0"/>
<line x1="386.21" y1="311.2" x2="386.21" y2="313.80" stroke="#1a1a1a" stroke-width="1.0"/>
<line x1="404.44" y1="311.2" x2="404.44" y2="313.80" stroke="#1a1a1a" stroke-width="1.0"/>
<line x1="417.38" y1="311.2" x2="417.38" y2="313.80" stroke="#1a1a1a" stroke-width="1.0"/>
<line x1="427.41" y1="311.2" x2="427.41" y2="313.80" stroke="#1a1a1a" stroke-width="1.0"/>
<line x1="435.61" y1="311.2" x2="435.61" y2="313.80" stroke="#1a1a1a" stroke-width="1.0"/>
<line x1="442.54" y1="311.2" x2="442.54" y2="313.80" stroke="#1a1a1a" stroke-width="1.0"/>
<line x1="448.55" y1="311.2" x2="448.55" y2="313.80" stroke="#1a1a1a" stroke-width="1.0"/>
<line x1="453.85" y1="311.2" x2="453.85" y2="313.80" stroke="#1a1a1a" stroke-width="1.0"/>
<text x="347.74" y="325.50" font-size="12" stroke="#1a1a1a" stroke-width="0.2">10<tspan font-size="8" dy="-5.2">0</tspan></text>
<line x1="458.58" y1="311.2" x2="458.58" y2="315.40" stroke="#1a1a1a" stroke-width="1.0"/>
<line x1="489.75" y1="311.2" x2="489.75" y2="313.80" stroke="#1a1a1a" stroke-width="1.0"/>
<line x1="507.99" y1="311.2" x2="507.99" y2="313.80" stroke="#1a1a1a" stroke-width="1.0"/>
<line x1="520.92" y1="311.2" x2="520.92" y2="313.80" stroke="#1a1a1a" stroke-width="1.0"/>
<line x1="530.96" y1="311.2" x2="530.96" y2="313.80" stroke="#1a1a1a" stroke-width="1.0"/>
<line x1="539.16" y1="311.2" x2="539.16" y2="313.80" stroke="#1a1a1a" stroke-width="1.0"/>
<line x1="546.09" y1="311.2" x2="546.09" y2="313.80" stroke="#1a1a1a" stroke-width="1.0"/>
<line x1="552.09" y1="311.2" x2="552.09" y2="313.80" stroke="#1a1a1a" stroke-width="1.0"/>
<line x1="557.39" y1="311.2" x2="557.39" y2="313.80" stroke="#1a1a1a" stroke-width="1.0"/>
<text x="452.38" y="325.50" font-size="12" stroke="#1a1a1a" stroke-width="0.2">10<tspan font-size="8" dy="-5.2">1</tspan></text>
<line x1="562.13" y1="311.2" x2="562.13" y2="315.40" stroke="#1a1a1a" stroke-width="1.0"/>
<line x1="593.30" y1="311.2" x2="593.30" y2="313.80" stroke="#1a1a1a" stroke-width="1.0"/>
<text x="554.73" y="325.50" font-size="12" stroke="#1a1a1a" stroke-width="0.2">10<tspan font-size="8" dy="-5.2">2</tspan></text>
<text x="466.40" y="337.00" font-size="12" font-style="italic" stroke="#1a1a1a" stroke-width="0.2">y<tspan font-size="9" dx="0.6" dy="-4.2" font-style="normal">+</tspan></text>
<line x1="345.70" y1="192.90" x2="350.3" y2="192.90" stroke="#1a1a1a" stroke-width="1.0"/>
<text x="344.40" y="197.00" font-size="12" text-anchor="end" stroke="#1a1a1a" stroke-width="0.2">10<tspan font-size="8" dy="-5.2">0</tspan></text>
<line x1="347.70" y1="234.24" x2="350.3" y2="234.24" stroke="#1a1a1a" stroke-width="1.0"/>
<line x1="347.70" y1="223.83" x2="350.3" y2="223.83" stroke="#1a1a1a" stroke-width="1.0"/>
<line x1="347.70" y1="216.44" x2="350.3" y2="216.44" stroke="#1a1a1a" stroke-width="1.0"/>
<line x1="347.70" y1="210.71" x2="350.3" y2="210.71" stroke="#1a1a1a" stroke-width="1.0"/>
<line x1="347.70" y1="206.02" x2="350.3" y2="206.02" stroke="#1a1a1a" stroke-width="1.0"/>
<line x1="347.70" y1="202.06" x2="350.3" y2="202.06" stroke="#1a1a1a" stroke-width="1.0"/>
<line x1="347.70" y1="198.63" x2="350.3" y2="198.63" stroke="#1a1a1a" stroke-width="1.0"/>
<line x1="347.70" y1="195.61" x2="350.3" y2="195.61" stroke="#1a1a1a" stroke-width="1.0"/>
<line x1="345.70" y1="252.05" x2="350.3" y2="252.05" stroke="#1a1a1a" stroke-width="1.0"/>
<text x="344.40" y="256.15" font-size="12" text-anchor="end" stroke="#1a1a1a" stroke-width="0.2">10<tspan font-size="8" dy="-5.2">-1</tspan></text>
<line x1="347.70" y1="293.39" x2="350.3" y2="293.39" stroke="#1a1a1a" stroke-width="1.0"/>
<line x1="347.70" y1="282.98" x2="350.3" y2="282.98" stroke="#1a1a1a" stroke-width="1.0"/>
<line x1="347.70" y1="275.59" x2="350.3" y2="275.59" stroke="#1a1a1a" stroke-width="1.0"/>
<line x1="347.70" y1="269.86" x2="350.3" y2="269.86" stroke="#1a1a1a" stroke-width="1.0"/>
<line x1="347.70" y1="265.17" x2="350.3" y2="265.17" stroke="#1a1a1a" stroke-width="1.0"/>
<line x1="347.70" y1="261.21" x2="350.3" y2="261.21" stroke="#1a1a1a" stroke-width="1.0"/>
<line x1="347.70" y1="257.78" x2="350.3" y2="257.78" stroke="#1a1a1a" stroke-width="1.0"/>
<line x1="347.70" y1="254.76" x2="350.3" y2="254.76" stroke="#1a1a1a" stroke-width="1.0"/>
<line x1="345.70" y1="311.20" x2="350.3" y2="311.20" stroke="#1a1a1a" stroke-width="1.0"/>
<text x="344.40" y="315.30" font-size="12" text-anchor="end" stroke="#1a1a1a" stroke-width="0.2">10<tspan font-size="8" dy="-5.2">-2</tspan></text>
<g transform="translate(325.20,261.00) rotate(-90)"><text x="0" y="0" font-size="11" font-style="italic" stroke="#1a1a1a" stroke-width="0.2">ω</text><text x="8.90" y="0.6" font-size="6.2" font-style="italic" stroke="#1a1a1a" stroke-width="0.12">x,rms</text><text x="8.20" y="-4.0" font-size="8.6" stroke="#1a1a1a" stroke-width="0.12">+</text></g>
</svg>
</body></html>
